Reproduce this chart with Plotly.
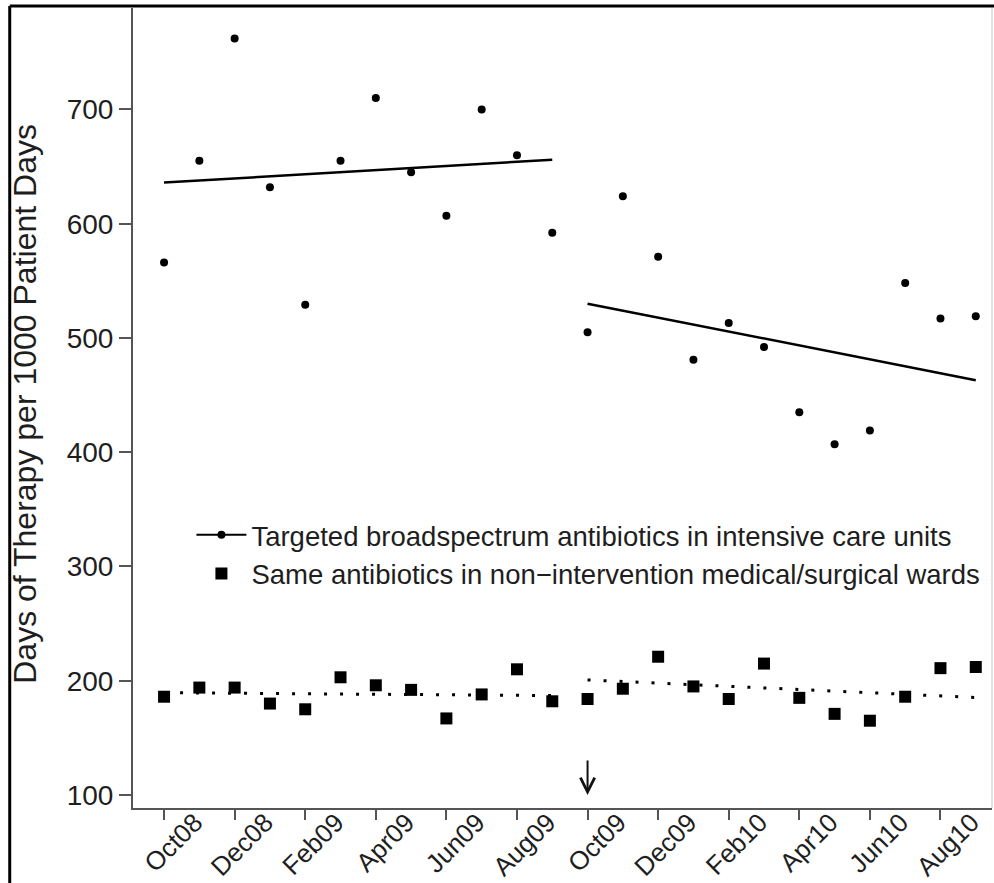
import plotly.graph_objects as go

# Monthly periods, Oct 2008 - Sep 2010
months = ["Oct08", "Nov08", "Dec08", "Jan09", "Feb09", "Mar09", "Apr09", "May09",
          "Jun09", "Jul09", "Aug09", "Sep09", "Oct09", "Nov09", "Dec09", "Jan10",
          "Feb10", "Mar10", "Apr10", "May10", "Jun10", "Jul10", "Aug10", "Sep10"]
tick_months = months[::2]

# Days of therapy per 1000 patient days
icu_dot = [566, 655, 762, 632, 529, 655, 710, 645, 607, 700, 660, 592,
           505, 624, 571, 481, 513, 492, 435, 407, 419, 548, 517, 519]
ward_dot = [186, 194, 194, 180, 175, 203, 196, 192, 167, 188, 210, 182,
            184, 193, 221, 195, 184, 215, 185, 171, 165, 186, 211, 212]

# Segmented regression fits (pre / post intervention)
pre_x = ["Oct08", "Sep09"]
post_x = ["Oct09", "Sep10"]
icu_fit_pre = [636, 656]
icu_fit_post = [530, 463]
ward_fit_pre = [189.5, 187]
ward_fit_post = [200.7, 185.3]

intervention = "Oct09"

label_icu = "Targeted broadspectrum antibiotics in intensive care units"
label_ward = "Same antibiotics in non\u2212intervention medical/surgical wards"

FONT = "Liberation Sans, Arial, Helvetica, sans-serif"
INK = "#1e1e1e"
AXIS = "#555555"

fig = go.Figure()

# fitted lines
fig.add_trace(go.Scatter(x=pre_x, y=icu_fit_pre, mode="lines",
                         line=dict(color="black", width=2.5), showlegend=False, hoverinfo="skip"))
fig.add_trace(go.Scatter(x=post_x, y=icu_fit_post, mode="lines",
                         line=dict(color="black", width=2.5), showlegend=False, hoverinfo="skip"))
fig.add_trace(go.Scatter(x=pre_x, y=ward_fit_pre, mode="lines",
                         line=dict(color="black", width=3, dash="3px,13px"),
                         showlegend=False, hoverinfo="skip"))
fig.add_trace(go.Scatter(x=post_x, y=ward_fit_post, mode="lines",
                         line=dict(color="black", width=3, dash="3px,13px"),
                         showlegend=False, hoverinfo="skip"))

# observed monthly values
fig.add_trace(go.Scatter(x=months, y=icu_dot, mode="markers",
                         marker=dict(symbol="circle", size=8, color="black"),
                         showlegend=False))
# legend key for the ICU series (line with point)
fig.add_trace(go.Scatter(x=[None], y=[None], mode="lines+markers", name=label_icu,
                         line=dict(color="black", width=2),
                         marker=dict(symbol="circle", size=8, color="black")))
fig.add_trace(go.Scatter(x=months, y=ward_dot, mode="markers", name=label_ward,
                         marker=dict(symbol="square", size=12, color="black")))

# intervention marker arrow
fig.add_annotation(x=intervention, y=100, xref="x", yref="y", text="",
                   showarrow=True, arrowhead=5, arrowsize=1.4, arrowwidth=2,
                   arrowcolor="#111111", ax=0, ay=-36)

# y-axis title
fig.add_annotation(text="Days of Therapy per 1000 Patient Days", xref="paper", yref="paper",
                   x=-0.126, y=0.505, xanchor="center", yanchor="middle", textangle=-90,
                   showarrow=False, font=dict(family=FONT, size=32, color=INK))

# outer frame (top and left) plus faint right edge of panel
fig.add_shape(type="line", xref="paper", yref="paper", x0=-0.1435, x1=1.01, y0=1.0025, y1=1.0025,
              line=dict(color="black", width=3))
fig.add_shape(type="line", xref="paper", yref="paper", x0=-0.1435, x1=-0.1435, y0=-0.11, y1=1.0025,
              line=dict(color="black", width=3))
fig.add_shape(type="line", xref="paper", yref="paper", x0=1.0, x1=1.0, y0=0, y1=1,
              line=dict(color="#d8d8d8", width=1.5))

fig.update_layout(
    width=994, height=883,
    margin=dict(l=133, r=2, t=8, b=75, autoexpand=False),
    paper_bgcolor="white", plot_bgcolor="white",
    font=dict(family=FONT, size=27, color=INK),
    showlegend=True,
    legend=dict(x=0.068, y=0.372, xanchor="left", yanchor="top",
                bgcolor="rgba(0,0,0,0)", itemwidth=50, tracegroupgap=0,
                font=dict(family=FONT, size=27.5, color=INK)),
    xaxis=dict(type="category", categoryorder="array", categoryarray=months,
               range=[-0.88, 23.46], tickmode="array", tickvals=tick_months,
               ticktext=tick_months, tickangle=-45, ticks="outside", ticklen=10,
               tickwidth=2, tickcolor=AXIS, showline=True, linecolor=AXIS, linewidth=2,
               ticklabelshift=31, ticklabelstandoff=-23, automargin=False,
               showgrid=False, zeroline=False, tickfont=dict(family=FONT, size=26, color=INK)),
    yaxis=dict(range=[88.6, 788.8], tickmode="array", tickvals=[100, 200, 300, 400, 500, 600, 700],
               ticks="outside", ticklen=12, tickwidth=2, tickcolor=AXIS, automargin=False,
               showline=True, linecolor=AXIS, linewidth=2, showgrid=False, zeroline=False,
               tickfont=dict(family=FONT, size=28, color=INK)),
)

fig.write_html("out.html")
